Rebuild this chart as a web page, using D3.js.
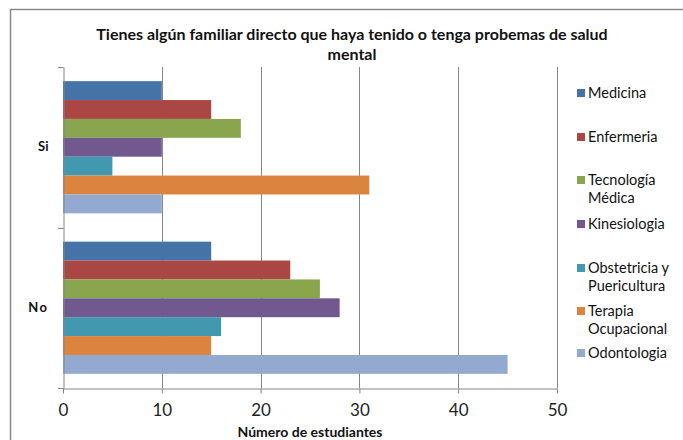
<!DOCTYPE html>
<html>
<head>
<meta charset="utf-8">
<script src="https://cdn.jsdelivr.net/npm/d3@7"></script>
<style>
  html, body { margin: 0; padding: 0; background: #fff; }
  svg { display: block; font-family: Lato, "Open Sans", sans-serif; }
</style>
</head>
<body>
<svg id="chart" width="683" height="440"></svg>
<script>
// Categories (answers) in display order, top to bottom
const categories = ["Si", "No"];
// Careers (series), in legend / bar order
const series = ["Medicina", "Enfermeria", "Tecnología Médica", "Kinesiologia",
                "Obstetricia y Puericultura", "Terapia Ocupacional", "Odontologia"];
const legendLines = [["Medicina"], ["Enfermeria"], ["Tecnología", "Médica"], ["Kinesiologia"],
                     ["Obstetricia y", "Puericultura"], ["Terapia", "Ocupacional"], ["Odontologia"]];
const colors = ["#4572A7", "#AA4643", "#89A54E", "#71588F", "#4198AF", "#DB843D", "#93A9CF"];
// Number of students per career, for each answer
const valuesSi = [10, 15, 18, 10, 5, 31, 10];
const valuesNo = [15, 23, 26, 28, 16, 15, 45];
const xTicks = [0, 10, 20, 30, 40, 50];

const titleLines = ["Tienes algún familiar directo que haya tenido o tenga probemas de salud", "mental"];
const xTitle = "Número de estudiantes";

const svg = d3.select("#chart");
const W = 683, H = 440;
const grid = "#868686";

// chart frame
svg.append("rect").attr("x", 10.5).attr("y", 9.5).attr("width", W).attr("height", H)
  .attr("fill", "#fff").attr("stroke", "#8a8a8a").attr("stroke-width", 1.5);

const plot = { left: 63, right: 557, top: 67, bottom: 388 };

const x = d3.scaleLinear().domain([0, 50]).range([plot.left, plot.right]);
const y0 = d3.scaleBand().domain(categories).range([plot.top, plot.bottom]);
const y1 = d3.scaleBand().domain(series).range([0, y0.bandwidth()]).paddingOuter(0.75).paddingInner(0);

const rows = categories.map((c, i) => ({ cat: c, vals: i === 0 ? valuesSi : valuesNo }));

// vertical gridlines
svg.append("g").selectAll("line").data(xTicks.slice(1)).join("line")
  .attr("x1", d => Math.round(x(d)) + 0.5).attr("x2", d => Math.round(x(d)) + 0.5)
  .attr("y1", plot.top).attr("y2", plot.bottom)
  .attr("stroke", grid).attr("stroke-width", 1);

// bars
const groups = svg.append("g").selectAll("g").data(rows).join("g")
  .attr("transform", d => `translate(0,${y0(d.cat)})`);
groups.selectAll("rect").data(d => d.vals.map((v, i) => ({ v, s: series[i], c: colors[i] })))
  .join("rect")
  .attr("x", x(0))
  .attr("y", d => y1(d.s))
  .attr("width", d => x(d.v) - x(0))
  .attr("height", y1.bandwidth())
  .attr("fill", d => d.c);

// x axis
const xAxis = svg.append("g").attr("transform", `translate(0,${plot.bottom + 0.5})`)
  .call(d3.axisBottom(x).tickValues(xTicks).tickSize(5).tickPadding(10).tickSizeOuter(0));
xAxis.select(".domain").attr("stroke", grid);
xAxis.selectAll(".tick line").attr("stroke", grid);
xAxis.selectAll(".tick text").attr("font-size", 17).attr("fill", "#222")
  .attr("font-family", "Lato, sans-serif");

// y axis
const yAxis = svg.append("g").attr("transform", `translate(${plot.left + 0.5},0)`)
  .call(d3.axisLeft(y0).tickSize(0).tickPadding(15));
yAxis.select(".domain").attr("stroke", grid);
yAxis.selectAll(".tick text").attr("font-size", 13).attr("fill", "#111")
  .attr("font-family", "Lato, sans-serif").attr("font-weight", "bold")
  .attr("letter-spacing", d => d === "No" ? 1.5 : 0);
// category boundary ticks
const bounds = [plot.top, y0("No"), plot.bottom];
svg.append("g").selectAll("line").data(bounds).join("line")
  .attr("x1", plot.left - 5).attr("x2", plot.left + 0.5)
  .attr("y1", d => Math.round(d) + 0.5).attr("y2", d => Math.round(d) + 0.5)
  .attr("stroke", grid);

// title
svg.append("g").selectAll("text").data(titleLines).join("text")
  .attr("x", 352).attr("y", (d, i) => 40 + i * 20)
  .attr("text-anchor", "middle").attr("font-size", 16).attr("font-weight", "bold")
  .attr("fill", "#111").text(d => d);

// x axis title
svg.append("text").attr("x", 310).attr("y", 437).attr("text-anchor", "middle")
  .attr("font-size", 14).attr("font-weight", "bold").attr("fill", "#111").text(xTitle);

// legend
const legendY = [93, 137, 180, 224, 268, 311, 353];
const lg = svg.append("g").selectAll("g").data(legendLines).join("g")
  .attr("transform", (d, i) => `translate(577,${legendY[i]})`);
lg.append("rect").attr("x", 0).attr("y", -4).attr("width", 8).attr("height", 8)
  .attr("fill", (d, i) => colors[i]);
lg.selectAll("text").data(d => d).join("text")
  .attr("x", 11).attr("y", (d, j) => j * 18 + 5)
  .attr("font-size", 14.5).attr("fill", "#111").text(d => d);
</script>
</body>
</html>
